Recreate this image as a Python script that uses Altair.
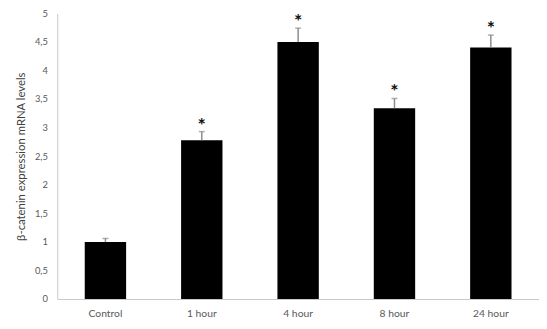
import altair as alt
import pandas as pd

categories = ["Control", "1 hour", "4 hour", "8 hour", "24 hour"]
values = [1.0, 2.78, 4.5, 3.34, 4.40]
errors = [0.06, 0.15, 0.24, 0.17, 0.22]
stars = ["", "*", "*", "*", "*"]
y_ticks = [0, 0.5, 1, 1.5, 2, 2.5, 3, 3.5, 4, 4.5, 5]

df = pd.DataFrame({"cat": categories, "val": values, "err": errors, "star": stars})
df["top"] = df["val"] + df["err"]

x = alt.X("cat:N", sort=categories, title=None,
          scale=alt.Scale(paddingInner=0.57, paddingOuter=0.285),
          axis=alt.Axis(labelAngle=0, domainColor="#c8c8c8", ticks=False,
                        labelColor="#595959", labelFont="Lato", labelFontSize=10.5,
                        labelPadding=10))
y_axis = alt.Axis(values=y_ticks,
                  labelExpr="replace(toString(datum.value), '.', ',')",
                  labelOverlap=False, labelFlush=False,
                  grid=False, ticks=False, domainColor="#c8c8c8",
                  labelColor="#595959", labelFont="Lato", labelFontSize=9.5,
                  labelPadding=10, title="β-catenin expression mRNA levels",
                  titleFont="Lato", titleFontSize=11.5, titleFontWeight="normal",
                  titleColor="#404040", titlePadding=8)
ysc = alt.Scale(domain=[0, 5], nice=False)

base = alt.Chart(df)
bars = base.mark_bar(color="#000000", size=42).encode(
    x=x, y=alt.Y("val:Q", scale=ysc, axis=y_axis))
err = base.mark_rule(color="#8c8c8c", strokeWidth=1.5).encode(
    x=x, y=alt.Y("val:Q", scale=ysc, axis=y_axis), y2="top:Q")
cap = base.mark_tick(color="#8c8c8c", size=6, thickness=1.5, orient="horizontal").encode(
    x=x, y=alt.Y("top:Q", scale=ysc, axis=y_axis))
star = base.mark_text(color="#111111", fontSize=20, fontWeight="bold", dy=-6,
                      baseline="middle", font="Lato").encode(
    x=x, y=alt.Y("top:Q", scale=ysc, axis=y_axis), text="star:N")

chart = (bars + err + cap + star).properties(
    width=489, height=290,
    autosize=alt.AutoSizeParams(type="none"),
    padding={"left": 50, "top": 3, "right": 0, "bottom": 28},
).configure_view(stroke=None)

chart.save("out.html", embed_options={"renderer": "svg", "actions": False})
